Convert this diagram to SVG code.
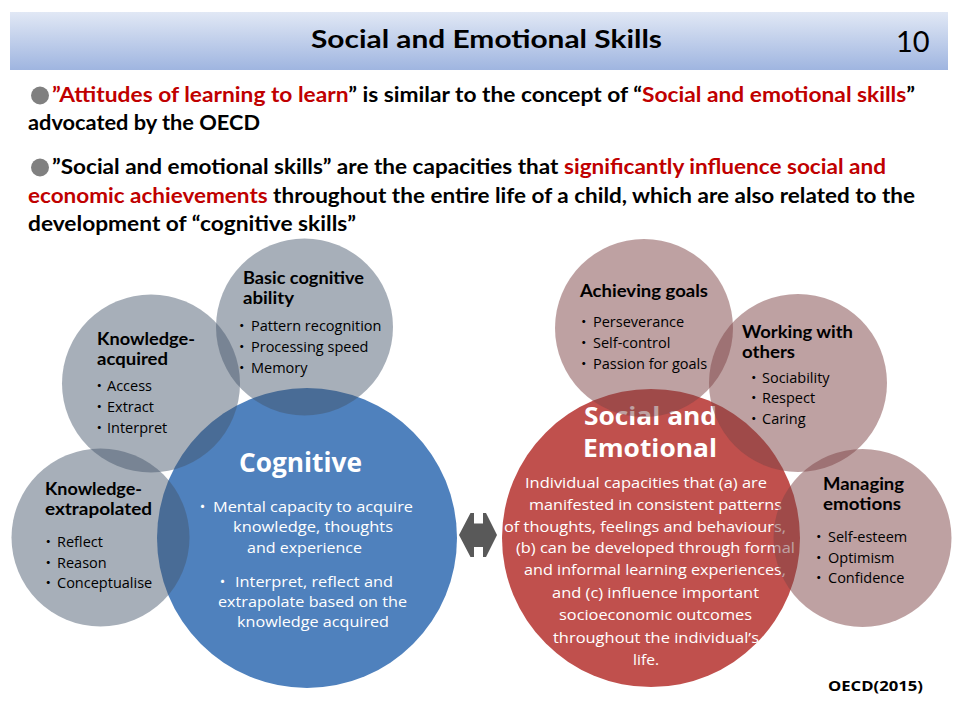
<svg xmlns="http://www.w3.org/2000/svg" width="960" height="720" viewBox="0 0 960 720">
<defs>
<linearGradient id="bar" x1="0" y1="0" x2="0" y2="1">
<stop offset="0" stop-color="#e1e8f5"/>
<stop offset="1" stop-color="#9fb5e0"/>
</linearGradient>
<style>
text{font-family:Lato,"Open Sans","Noto Sans","Noto Sans CJK JP",sans-serif}
.gc{fill:#44546a;fill-opacity:0.47}
.rc{fill:#7e4446;fill-opacity:0.5}
.o{font-family:"Open Sans","Noto Sans","Noto Sans CJK JP",sans-serif}
.t{font-family:Lato,"Open Sans",sans-serif;font-weight:700;font-size:16.5px;fill:#000}
.b{font-family:"Open Sans","Noto Sans",sans-serif;font-size:14.5px;fill:#000}
.d{font-family:"Noto Sans CJK JP",sans-serif}
.p{font-weight:700;font-size:20px;fill:#000}
.red{fill:#c00000}
.wt{fill:#fff;font-weight:700;font-family:"Open Sans","Noto Sans",sans-serif}
.wb{fill:#fff;font-size:15px;font-family:"Open Sans","Noto Sans",sans-serif}
</style>
</defs>
<rect width="960" height="720" fill="#fff"/>
<g id="header">
<rect x="10" y="12" width="938" height="58" fill="url(#bar)"/>
<text x="311" y="48" font-size="24" font-weight="700" textLength="351" lengthAdjust="spacingAndGlyphs">Social and Emotional Skills</text>
<text x="896" y="52" font-size="29">10</text>
</g>
<g id="intro">
<circle cx="40" cy="95.5" r="9" fill="#808080"/>
<text class="p" x="52" y="102" textLength="863" lengthAdjust="spacingAndGlyphs"><tspan class="red">”Attitudes of learning to learn</tspan>” is similar to the concept of “<tspan class="red">Social and emotional skills</tspan>”</text>
<text class="p" x="28" y="130" textLength="232" lengthAdjust="spacingAndGlyphs">advocated by the OECD</text>
<circle cx="40" cy="167.5" r="9" fill="#808080"/>
<text class="p" x="52" y="174" textLength="834" lengthAdjust="spacingAndGlyphs">”Social and emotional skills” are the capacities that <tspan class="red">significantly influence social and</tspan></text>
<text class="p" x="28" y="203" textLength="887" lengthAdjust="spacingAndGlyphs"><tspan class="red">economic achievements</tspan> throughout the entire life of a child, which are also related to the</text>
<text class="p" x="28" y="231" textLength="328" lengthAdjust="spacingAndGlyphs">development of “cognitive skills”</text>
</g>
<g id="cognitive">
<circle cx="307" cy="538" r="150" fill="#4f81bd"/>
<text class="wt" x="239" y="472" font-size="26" textLength="123" lengthAdjust="spacingAndGlyphs">Cognitive</text>
<text class="wb"><tspan class="d" x="195" y="512">・</tspan><tspan x="213" y="512" textLength="200" lengthAdjust="spacingAndGlyphs">Mental capacity to acquire</tspan></text>
<text class="wb" x="233" y="532" textLength="160" lengthAdjust="spacingAndGlyphs">knowledge, thoughts</text>
<text class="wb" x="247" y="553" textLength="115" lengthAdjust="spacingAndGlyphs">and experience</text>
<text class="wb"><tspan class="d" x="215" y="587">・</tspan><tspan x="235" y="587" textLength="158" lengthAdjust="spacingAndGlyphs">Interpret, reflect and</tspan></text>
<text class="wb" x="218" y="607" textLength="189" lengthAdjust="spacingAndGlyphs">extrapolate based on the</text>
<text class="wb" x="237" y="627" textLength="152" lengthAdjust="spacingAndGlyphs">knowledge acquired</text>
</g>
<g id="basic-cognitive">
<circle class="gc" cx="304.5" cy="327" r="88.5"/>
<text class="t" x="243" y="284" textLength="121" lengthAdjust="spacingAndGlyphs">Basic cognitive</text>
<text class="t" x="243" y="304" textLength="51" lengthAdjust="spacingAndGlyphs">ability</text>
<text class="b"><tspan class="d" x="234.5" y="331">・</tspan><tspan x="251" y="331">Pattern recognition</tspan></text>
<text class="b"><tspan class="d" x="234.5" y="352">・</tspan><tspan x="251" y="352">Processing speed</tspan></text>
<text class="b"><tspan class="d" x="234.5" y="373">・</tspan><tspan x="251" y="373">Memory</tspan></text>
</g>
<g id="knowledge-acquired">
<circle class="gc" cx="151" cy="383.5" r="89"/>
<text class="t" x="97" y="345" textLength="98" lengthAdjust="spacingAndGlyphs">Knowledge-</text>
<text class="t" x="97" y="365" textLength="71" lengthAdjust="spacingAndGlyphs">acquired</text>
<text class="b"><tspan class="d" x="92" y="391">・</tspan><tspan x="107" y="391">Access</tspan></text>
<text class="b"><tspan class="d" x="92" y="412">・</tspan><tspan x="107" y="412">Extract</tspan></text>
<text class="b"><tspan class="d" x="92" y="433">・</tspan><tspan x="107" y="433">Interpret</tspan></text>
</g>
<g id="knowledge-extrapolated">
<circle class="gc" cx="100.5" cy="537.5" r="89"/>
<text class="t" x="45" y="495" textLength="97" lengthAdjust="spacingAndGlyphs">Knowledge-</text>
<text class="t" x="45" y="515" textLength="107" lengthAdjust="spacingAndGlyphs">extrapolated</text>
<text class="b"><tspan class="d" x="41" y="547">・</tspan><tspan x="57" y="547">Reflect</tspan></text>
<text class="b"><tspan class="d" x="41" y="568">・</tspan><tspan x="57" y="568">Reason</tspan></text>
<text class="b"><tspan class="d" x="41" y="588">・</tspan><tspan x="57" y="588">Conceptualise</tspan></text>
</g>
<g id="social-emotional">
<circle cx="651" cy="538" r="149" fill="#c0504d"/>
<text class="wt" font-size="25"><tspan x="584" y="425" textLength="133" lengthAdjust="spacingAndGlyphs">Social and</tspan><tspan x="583" y="457" textLength="134" lengthAdjust="spacingAndGlyphs">Emotional</tspan></text>
<text class="wb" x="525" y="488" textLength="242" lengthAdjust="spacingAndGlyphs">Individual capacities that (a) are</text>
<text class="wb" x="529" y="510" textLength="253" lengthAdjust="spacingAndGlyphs">manifested in consistent patterns</text>
<text class="wb" x="504" y="532" textLength="282" lengthAdjust="spacingAndGlyphs">of thoughts, feelings and behaviours,</text>
<text class="wb" x="516" y="553" textLength="279" lengthAdjust="spacingAndGlyphs">(b) can be developed through formal</text>
<text class="wb" x="524" y="575" textLength="262" lengthAdjust="spacingAndGlyphs">and informal learning experiences,</text>
<text class="wb" x="552" y="598" textLength="207" lengthAdjust="spacingAndGlyphs">and (c) influence important</text>
<text class="wb" x="559" y="620" textLength="193" lengthAdjust="spacingAndGlyphs">socioeconomic outcomes</text>
<text class="wb" x="553" y="643" textLength="206" lengthAdjust="spacingAndGlyphs">throughout the individual’s</text>
<text class="wb" x="633" y="665" textLength="26" lengthAdjust="spacingAndGlyphs">life.</text>
</g>
<g id="achieving-goals">
<circle class="rc" cx="644" cy="328" r="89"/>
<text class="t" x="580" y="297" textLength="128" lengthAdjust="spacingAndGlyphs">Achieving goals</text>
<text class="b"><tspan class="d" x="576.5" y="327">・</tspan><tspan x="593" y="327">Perseverance</tspan></text>
<text class="b"><tspan class="d" x="576.5" y="348">・</tspan><tspan x="593" y="348">Self-control</tspan></text>
<text class="b"><tspan class="d" x="576.5" y="369">・</tspan><tspan x="593" y="369">Passion for goals</tspan></text>
</g>
<g id="working-with-others">
<circle class="rc" cx="798" cy="383" r="89"/>
<text class="t" x="742" y="338" textLength="111" lengthAdjust="spacingAndGlyphs">Working with</text>
<text class="t" x="742" y="358" textLength="53" lengthAdjust="spacingAndGlyphs">others</text>
<text class="b"><tspan class="d" x="746.5" y="383">・</tspan><tspan x="762" y="383">Sociability</tspan></text>
<text class="b"><tspan class="d" x="746.5" y="403">・</tspan><tspan x="762" y="403">Respect</tspan></text>
<text class="b"><tspan class="d" x="746.5" y="424">・</tspan><tspan x="762" y="424">Caring</tspan></text>
</g>
<g id="managing-emotions">
<circle class="rc" cx="862.5" cy="538" r="89"/>
<text class="t" x="823" y="490" textLength="81" lengthAdjust="spacingAndGlyphs">Managing</text>
<text class="t" x="823" y="510" textLength="78" lengthAdjust="spacingAndGlyphs">emotions</text>
<text class="b"><tspan class="d" x="811.5" y="542">・</tspan><tspan x="828" y="542">Self-esteem</tspan></text>
<text class="b"><tspan class="d" x="811.5" y="563">・</tspan><tspan x="828" y="563">Optimism</tspan></text>
<text class="b"><tspan class="d" x="811.5" y="583">・</tspan><tspan x="828" y="583">Confidence</tspan></text>
</g>
<g id="connectors">
<polygon points="459,535 470.5,513 474,513 474,523.5 483,523.5 483,513 486,513 497,535 486,557 483,557 483,547 474,547 474,557 470.5,557" fill="#595959"/>
</g>
<g id="source">
<text class="o" x="828" y="691" font-size="15" font-weight="700" textLength="95" lengthAdjust="spacingAndGlyphs">OECD(2015)</text>
</g>
</svg>
